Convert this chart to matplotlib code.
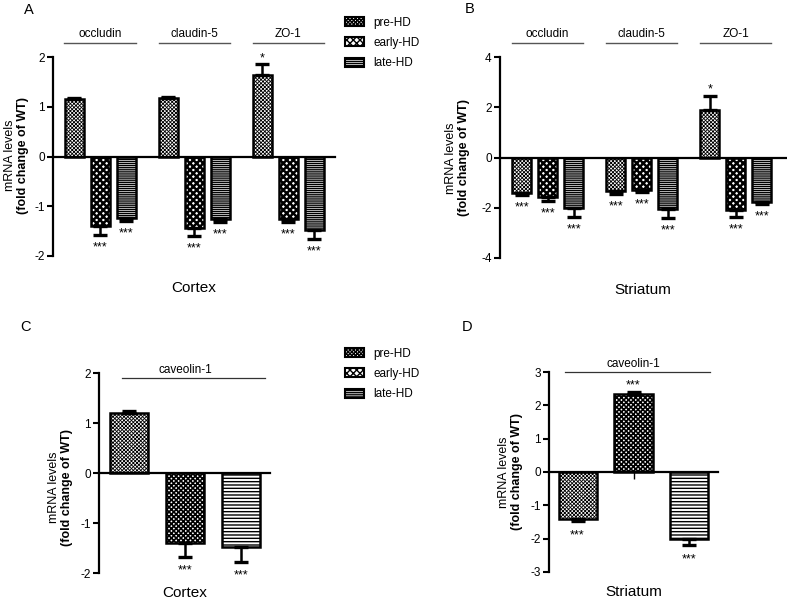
import matplotlib
matplotlib.use("Agg")
from matplotlib import pyplot as plt
from matplotlib.patches import Patch
import numpy as np

plt.rcParams["font.family"] = ["Liberation Sans", "DejaVu Sans"]

# Data
stages = ["pre-HD", "early-HD", "late-HD"]
junction_genes = ["occludin", "claudin-5", "ZO-1"]

cortex_junction = [[1.15, -1.40, -1.23],
                   [1.17, -1.43, -1.25],
                   [1.63, -1.25, -1.47]]
cortex_junction_err = [[0.02, 0.17, 0.07],
                       [0.02, 0.17, 0.06],
                       [0.22, 0.07, 0.18]]
cortex_junction_sig = [["", "***", "***"],
                       ["", "***", "***"],
                       ["*", "***", "***"]]

striatum_junction = [[-1.42, -1.57, -2.00],
                     [-1.35, -1.30, -2.05],
                     [1.90, -2.07, -1.78]]
striatum_junction_err = [[0.08, 0.15, 0.35],
                         [0.10, 0.07, 0.35],
                         [0.55, 0.28, 0.07]]
striatum_junction_sig = [["***", "***", "***"],
                         ["***", "***", "***"],
                         ["*", "***", "***"]]

cav_gene = "caveolin-1"
cortex_cav = [1.20, -1.40, -1.47]
cortex_cav_err = [0.05, 0.28, 0.30]
cortex_cav_sig = ["", "***", "***"]

striatum_cav = [-1.42, 2.35, -2.00]
striatum_cav_err = [0.06, 0.05, 0.20]
striatum_cav_sig = ["***", "***", "***"]

# hatch style per stage: (pattern, hatch linewidth)
hatch_narrow = [("xxxxxxxxx", 0.6), ("xxxxx", 1.8), ("--------", 1.0)]
hatch_wide = [("xxxxxxxxx", 0.6), ("xxxxxxx", 1.2), ("-----", 1.0)]


def style_axis(ax, ylim, yticks):
    ax.set_ylim(*ylim)
    ax.set_yticks(yticks)
    ax.set_yticklabels([str(t) for t in yticks], fontsize=8.5)
    for side in ["top", "right"]:
        ax.spines[side].set_visible(False)
    ax.spines["left"].set_linewidth(1.6)
    ax.spines["bottom"].set_position(("data", 0))
    ax.spines["bottom"].set_linewidth(1.6)
    ax.tick_params(axis="y", width=1.5, length=4, pad=2)
    ax.set_xticks([])


def draw_bars(ax, xs, vals, errs, sigs, width, hatch_list, star_off):
    for x, v, e, s, (h, hlw) in zip(xs, vals, errs, sigs, hatch_list):
        with plt.rc_context({"hatch.linewidth": hlw}):
            ax.bar(x, v, width=width, facecolor="white", edgecolor="black",
                   linewidth=1.8, hatch=h, zorder=2)
        end = v + e if v > 0 else v - e
        ax.errorbar(x, v, yerr=[[0], [e]] if v > 0 else [[e], [0]],
                    fmt="none", ecolor="black", elinewidth=1.8,
                    capsize=5, capthick=2.4, zorder=3)
        if s:
            dy = 4.5 if v > 0 else -star_off
            ax.annotate(s, (x, end), xytext=(0, dy), textcoords="offset points",
                        ha="center", va="center", fontsize=9)


def ylabel(fig, x1, x2, yc):
    fig.text(x1 / 787, 1 - yc / 600, "mRNA levels", rotation=90,
             ha="center", va="center", fontsize=9)
    fig.text(x2 / 787, 1 - yc / 600, "(fold change of WT)", rotation=90,
             ha="center", va="center", fontsize=9, fontweight="bold")


fig = plt.figure(figsize=(7.87, 6.0), dpi=100)

# Panel A / B: junction genes
for rect, ylim, yticks, vals, errs, sigs, xl, title in [
        ([53 / 787, 1 - 256 / 600, 282 / 787, 199 / 600], (-2, 2),
         [-2, -1, 0, 1, 2], cortex_junction, cortex_junction_err,
         cortex_junction_sig, (-0.81, 10.04), "Cortex"),
        ([500 / 787, 1 - 258 / 600, 286 / 787, 201 / 600], (-4, 4),
         [-4, -2, 0, 2, 4], striatum_junction, striatum_junction_err,
         striatum_junction_sig, (-0.83, 10.17), "Striatum")]:
    ax = fig.add_axes(rect)
    style_axis(ax, ylim, yticks)
    ax.set_xlim(*xl)
    gap = 3.62
    for g, gene in enumerate(junction_genes):
        xs = g * gap + np.arange(3)
        draw_bars(ax, xs, vals[g], errs[g], sigs[g], 0.73, hatch_narrow, 9)
        ax.plot([xs[0] - 0.37, xs[2] + 0.37], [1.07, 1.07], color="#555555",
                lw=1.0, transform=ax.get_xaxis_transform(), clip_on=False)
        ax.text(xs[1], 1.115, gene, ha="center", va="center", fontsize=8.5,
                transform=ax.get_xaxis_transform())
    ax.text(0.5, -0.16, title, ha="center", va="center", fontsize=11,
            transform=ax.transAxes)

fig.text(24 / 787, 1 - 10 / 600, "A", fontsize=10.5, ha="left", va="center")
fig.text(465 / 787, 1 - 9 / 600, "B", fontsize=10.5, ha="left", va="center")
ylabel(fig, 10.5, 23, 155)
ylabel(fig, 451, 464, 158)

# Panel C / D: caveolin-1
for rect, ylim, yticks, vals, errs, sigs, xl, title, line_y, line_x in [
        ([99 / 787, 1 - 573 / 600, 171 / 787, 200 / 600], (-2, 2),
         [-2, -1, 0, 1, 2], cortex_cav, cortex_cav_err, cortex_cav_sig,
         (-0.54, 2.52), "Cortex", 0.975, (-0.13, 2.43)),
        ([549 / 787, 1 - 572 / 600, 169 / 787, 200 / 600], (-3, 3),
         [-3, -2, -1, 0, 1, 2, 3], striatum_cav, striatum_cav_err,
         striatum_cav_sig, (-0.51, 2.51), "Striatum", 1.0, (-0.22, 2.36))]:
    ax = fig.add_axes(rect)
    style_axis(ax, ylim, yticks)
    ax.set_xlim(*xl)
    xs = np.arange(3)
    draw_bars(ax, xs, vals, errs, sigs, 0.68, hatch_wide, 10)
    ax.plot(line_x, [line_y, line_y], color="#333333", lw=0.9,
            transform=ax.get_xaxis_transform(), clip_on=False)
    ax.text(1, line_y + 0.04, cav_gene, ha="center", va="center",
            fontsize=8.5, transform=ax.get_xaxis_transform())
    ax.text(0.5, -0.1, title, ha="center", va="center", fontsize=11,
            transform=ax.transAxes)
    if title == "Striatum":
        ax.set_xticks([1])
        ax.set_xticklabels([""])
        ax.tick_params(axis="x", length=5, width=1.0)

fig.text(20 / 787, 1 - 327 / 600, "C", fontsize=10.5, ha="left", va="center")
fig.text(462 / 787, 1 - 327 / 600, "D", fontsize=10.5, ha="left", va="center")
ylabel(fig, 54, 67, 487)
ylabel(fig, 504, 517, 472)

# Legends
for y in [12, 343]:
    handles = []
    for (h, hlw), s in zip(hatch_narrow, stages):
        with plt.rc_context({"hatch.linewidth": hlw}):
            handles.append(Patch(facecolor="white", edgecolor="black",
                                 linewidth=1.5, hatch=h, label=s))
    fig.legend(handles=handles, loc="upper left",
               bbox_to_anchor=(340 / 787, 1 - y / 600), frameon=False,
               fontsize=8.5, handlelength=1.6, handleheight=0.8,
               labelspacing=0.7, handletextpad=0.8, borderaxespad=0)

fig.savefig("out.png", dpi=100)
